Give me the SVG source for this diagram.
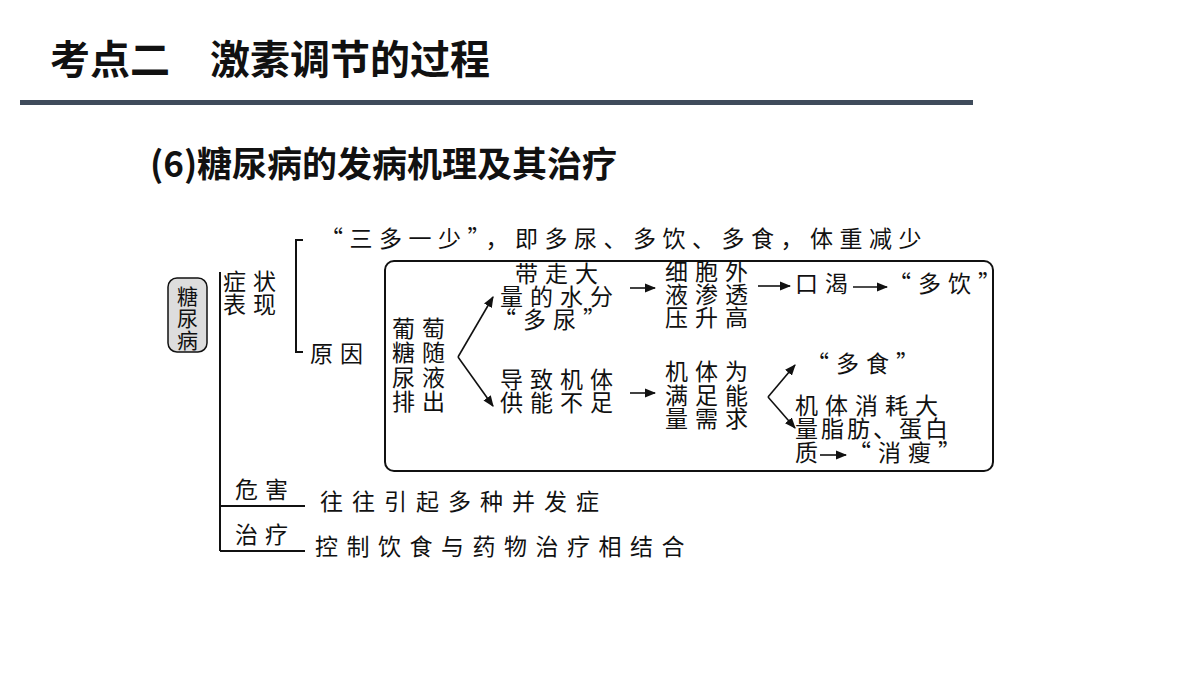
<svg xmlns="http://www.w3.org/2000/svg" width="1200" height="675" viewBox="0 0 1200 675">
<defs>
<style>
.t{font-family:"Noto Sans CJK SC",sans-serif;font-size:23px;letter-spacing:7px;fill:#111}
.b{font-family:"Noto Sans CJK SC",sans-serif;font-size:21px;fill:#111}
.l{stroke:#111;stroke-width:2;fill:none}
.a{stroke:#111;stroke-width:1.6;fill:none;marker-end:url(#ar)}
</style>
<marker id="ar" viewBox="0 0 10 10" refX="9" refY="5" markerWidth="7" markerHeight="7" orient="auto"><path d="M0,1 L10,5 L0,9 Z" fill="#111"/></marker>
</defs>
<rect width="1200" height="675" fill="#fff"/>
<text x="50" y="74" style="font-family:'Noto Sans CJK SC',sans-serif;font-size:40px;font-weight:bold;fill:#111">考点二　激素调节的过程</text>
<rect x="20" y="100" width="953" height="5" fill="#3f4b5b"/>
<text x="150" y="177" style="font-family:'Noto Sans CJK SC',sans-serif;font-size:35px;font-weight:bold;fill:#111">(6)糖尿病的发病机理及其治疗</text>
<g id="root"><rect x="168" y="278" width="39" height="74" rx="9" fill="#ddd" stroke="#111" stroke-width="1.5"/>
<text class="b" x="177" y="304">糖</text><text class="b" x="177" y="326">尿</text><text class="b" x="177" y="348">病</text></g>
<g id="connectors">
<path class="l" d="M220,272 V551 M220,506 H305 M220,551 H305 M303,240 H296 V352 H303"/>
<path class="a" d="M458,357 L493,297"/><path class="a" d="M458,357 L493,406"/>
<path class="a" d="M630,288 H655"/><path class="a" d="M758,286 H790"/><path class="a" d="M853,287 H887"/>
<path class="a" d="M630,393 H655"/>
<path class="a" d="M768,397 L795,365"/><path class="a" d="M768,397 L795,428"/>
<path class="a" d="M820,455 H846"/>
</g>
<g id="symptom"><text class="t" x="223" y="290">症状</text><text class="t" x="223" y="313">表现</text></g>
<g id="sanduo"><text class="t" x="320" y="247" style="letter-spacing:6.5px">“三多一少”，即多尿、多饮、多食，体重减少</text></g>
<g id="cause"><text class="t" x="310" y="362">原因</text>
<rect x="385" y="261" width="608" height="210" rx="9" fill="none" stroke="#111" stroke-width="2"/></g>
<g id="n1"><text class="t" x="392" y="337">葡萄</text><text class="t" x="392" y="361">糖随</text><text class="t" x="392" y="386">尿液</text><text class="t" x="392" y="410">排出</text></g>
<g id="n2"><text class="t" x="515" y="282">带走大</text><text class="t" x="500" y="305">量的水分</text><text class="t" x="493" y="328">“多尿”</text></g>
<g id="n3"><text class="t" x="665" y="280">细胞外</text><text class="t" x="665" y="303">液渗透</text><text class="t" x="665" y="326">压升高</text></g>
<g id="n4"><text class="t" x="795" y="292">口渴</text><text class="t" x="888" y="292">“多饮”</text></g>
<g id="n5"><text class="t" x="500" y="388">导致机体</text><text class="t" x="500" y="411">供能不足</text></g>
<g id="n6"><text class="t" x="665" y="380">机体为</text><text class="t" x="665" y="404">满足能</text><text class="t" x="665" y="427">量需求</text></g>
<g id="n7"><text class="t" x="806" y="372">“多食”</text></g>
<g id="n8"><text class="t" x="795" y="414">机体消耗大</text><text class="t" x="795" y="437" style="letter-spacing:3px">量脂肪、蛋白</text><text class="t" x="795" y="461">质</text><text class="t" x="848" y="461">“消瘦”</text></g>
<g id="harm"><text class="t" x="235" y="498">危害</text><text class="t" x="320" y="510" style="letter-spacing:9px">往往引起多种并发症</text></g>
<g id="treat"><text class="t" x="235" y="543">治疗</text><text class="t" x="315" y="555" style="letter-spacing:8.5px">控制饮食与药物治疗相结合</text></g>
</svg>
